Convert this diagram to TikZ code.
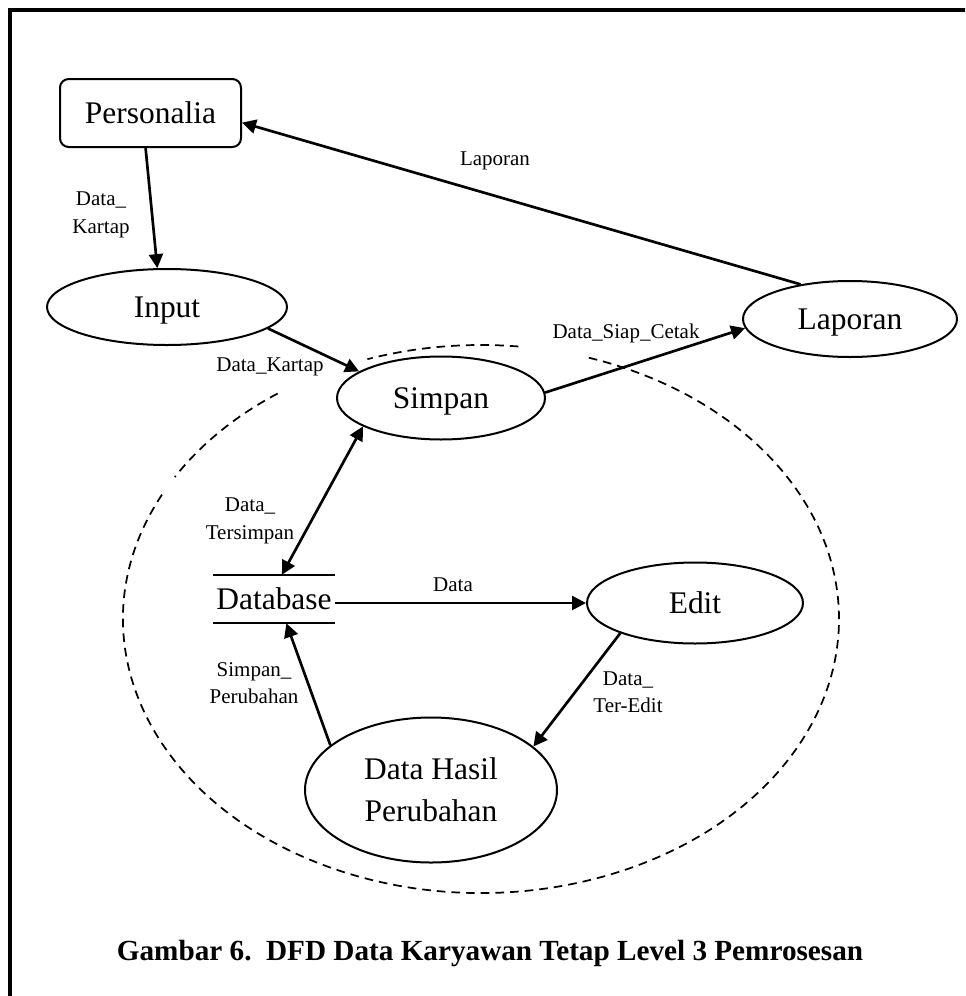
\documentclass[tikz,border=0pt]{standalone}
\usepackage{fontspec}
\setmainfont{Liberation Serif}
\usetikzlibrary{arrows.meta,shapes.geometric}
\begin{document}
\begin{tikzpicture}[x=0.75pt,y=-0.75pt,
  bigtext/.style={font=\fontsize{23.6}{31.5}\selectfont},
  flowlabel/.style={font=\fontsize{15.75}{20.5}\selectfont, align=center, inner sep=0pt},
  process/.style={ellipse, draw, line width=1.5pt, inner sep=0pt, text depth=0pt, align=center, bigtext},
  entity/.style={draw, rounded corners=6.5pt, line width=1.5pt, inner sep=0pt, text depth=0pt, bigtext},
  store/.style={inner sep=0pt, text depth=0pt, bigtext},
  flow/.style={line width=2pt, -{Triangle[length=10.5pt,width=10.5pt]}},
  dualflow/.style={line width=2pt, {Triangle[length=10.5pt,width=10.5pt]}-{Triangle[length=10.5pt,width=10.5pt]}},
  ringline/.style={dashed, dash pattern=on 6.5pt off 4.5pt, line width=1.3pt},
  frame/.style={line width=3pt, line join=miter}
]
\useasboundingbox (0,0) rectangle (965,996);
\clip (0,0) rectangle (965,996);

% page frame
\draw[frame] (10,1020) -- (10,10) -- (990,10);

% boundary of the process group
\coordinate (ring) at (481,619);
\draw[ringline] ([shift={(84:268.5pt and 205.5pt)}]ring)
  arc[start angle=84, end angle=108.5, x radius=268.5pt, y radius=205.5pt];
\draw[ringline] ([shift={(124.6:268.5pt and 205.5pt)}]ring)
  arc[start angle=124.6, end angle=148.8, x radius=268.5pt, y radius=205.5pt];
\draw[ringline] ([shift={(153:268.5pt and 205.5pt)}]ring)
  arc[start angle=153, end angle=433, x radius=268.5pt, y radius=205.5pt];

% external entity, processes and data store
\node[entity, minimum width=135.75pt, minimum height=51pt] (pers) at (150.5,113) {Personalia};
\node[process, minimum width=180pt, minimum height=57pt] (inp) at (167,307) {Input};
\node[process, minimum width=156pt, minimum height=62.25pt] (simpan) at (441,398) {Simpan};
\node[process, minimum width=160.5pt, minimum height=57pt] (lap) at (850,319) {Laporan};
\node[process, minimum width=162pt, minimum height=60.75pt] (edit) at (695,603) {Edit};
\node[process, minimum width=189pt, minimum height=108.75pt] (dhp) at (431,790) {Data Hasil\\Perubahan};
\node[store, minimum width=91.5pt, minimum height=36pt] (db) at (274,599) {Database};
\draw[line width=1.5pt] (db.north west) -- (db.north east)
                       (db.south west) -- (db.south east);

% data flows
\draw[flow] (pers.262) -- (inp.104);
\draw[flow] (inp.-12) -- (simpan.162);
\draw[dualflow] (simpan.200) -- (db.72);
\draw[flow] (db.east |- edit.west) -- (edit.west);
\draw[flow] (edit.202) -- (dhp.23.5);
\draw[flow] (dhp.156.5) -- (db.-63);
\draw[flow] (simpan.3) -- (lap.185.6);
\draw[flow] (lap.145) -- (pers.-6);

% flow labels
\node[flowlabel] (lKartap1) at (101,215) {Data\_\\Kartap};
\node[flowlabel, anchor=base] (lKartap2) at (270,371) {Data\_Kartap};
\node[flowlabel, anchor=base] (lCetak) at (626,338) {Data\_Siap\_Cetak};
\node[flowlabel, anchor=base] (lLaporan) at (495,165) {Laporan};
\node[flowlabel] (lSimpan) at (250,521) {Data\_\\Tersimpan};
\node[flowlabel, anchor=base] (lData) at (453,591) {Data};
\node[flowlabel] (lEdit) at (628,692) {Data\_\\Ter-Edit};
\node[flowlabel] (lUbah) at (254,683) {Simpan\_\\Perubahan};

% caption
\node[font=\bfseries\fontsize{21.9}{26}\selectfont, anchor=base, inner sep=0pt] (caption) at (490,960)
  {Gambar 6.\ \ DFD Data Karyawan Tetap Level 3 Pemrosesan};
\end{tikzpicture}
\end{document}
